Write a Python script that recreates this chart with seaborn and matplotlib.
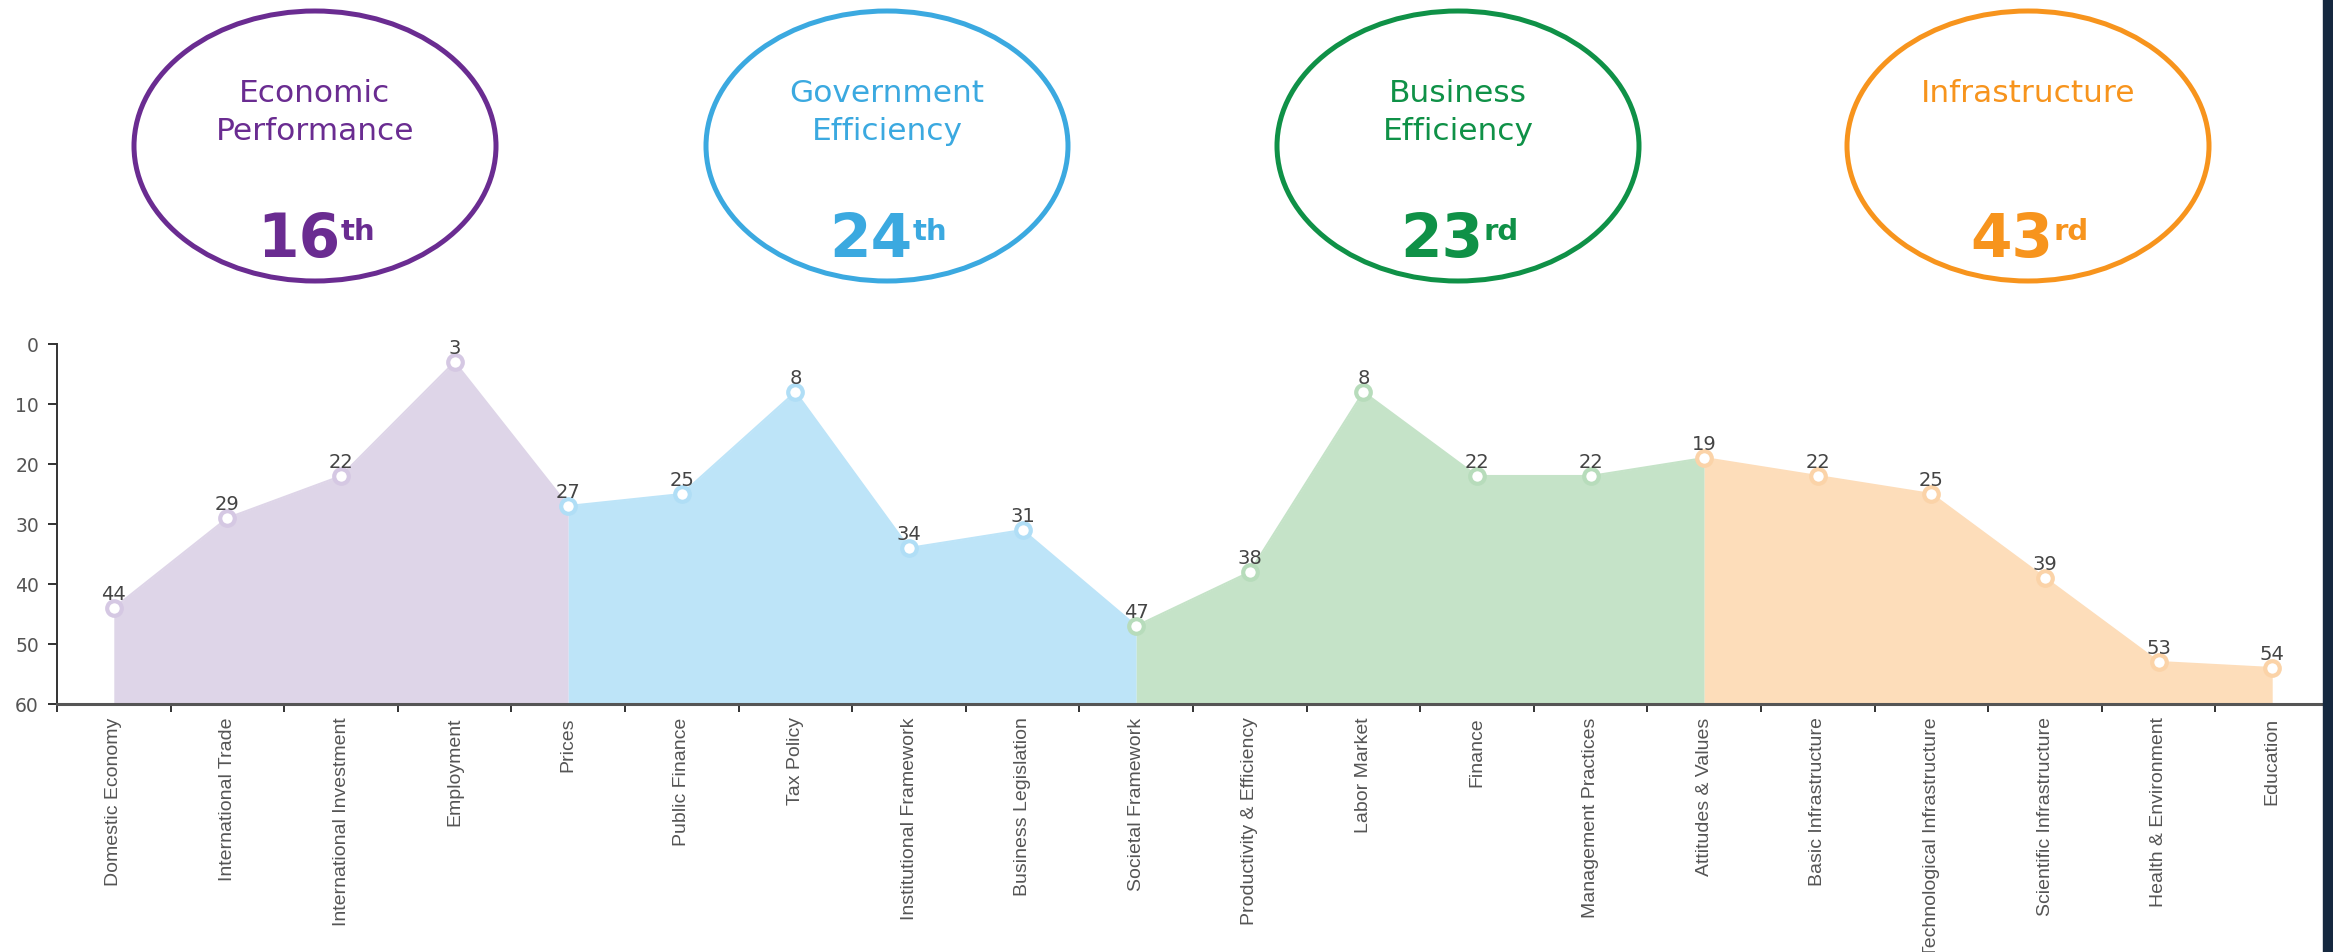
import matplotlib
matplotlib.use("Agg")
import matplotlib.pyplot as plt
from matplotlib.patches import Ellipse, Rectangle
import seaborn as sns
import pandas as pd
import numpy as np

# ---- data -------------------------------------------------------------
factors = ["Economic\nPerformance", "Government\nEfficiency",
           "Business\nEfficiency", "Infrastructure"]
factor_rank = [16, 24, 23, 43]
factor_suffix = ["th", "th", "rd", "rd"]

sub_factors = [
    "Domestic Economy", "International Trade", "International Investment",
    "Employment", "Prices", "Public Finance", "Tax Policy",
    "Institutional Framework", "Business Legislation", "Societal Framework",
    "Productivity & Efficiency", "Labor Market", "Finance",
    "Management Practices", "Attitudes & Values", "Basic Infrastructure",
    "Technological Infrastructure", "Scientific Infrastructure",
    "Health & Environment", "Education",
]
sub_rank = [44, 29, 22, 3, 27, 25, 8, 34, 31, 47,
            38, 8, 22, 22, 19, 22, 25, 39, 53, 54]

# index range (inclusive) of each filled band along the x axis
band_start = [0, 4, 9, 14]
band_end = [4, 9, 14, 19]

# ---- styling ----------------------------------------------------------
strong = ["#6A2C91", "#3BA9E0", "#0F9147", "#F7941D"]
fill = ["#DED5E8", "#BDE4F8", "#C5E3C8", "#FDDDBA"]
ring = ["#D5C8E3", "#B0DEF6", "#B7DCBB", "#FBD3A8"]

sns.set_theme(style="white")
plt.rcParams["font.family"] = ["Liberation Sans", "DejaVu Sans"]
WIDE = ["DejaVu Sans"]

W, H = 2333, 953
fig = plt.figure(figsize=(W / 100, H / 100), dpi=100)
fig.patch.set_facecolor("white")

df = pd.DataFrame({"pos": np.arange(len(sub_factors)),
                   "name": sub_factors, "rank": sub_rank})

ax = fig.add_axes([57 / W, 1 - 705 / H, (2329 - 57) / W, (705 - 345) / H])
ax.set_facecolor("white")

for i in range(4):
    seg = df.iloc[band_start[i]:band_end[i] + 1]
    ax.fill_between(seg["pos"], seg["rank"], 60, color=fill[i], lw=0,
                    zorder=1)
    sns.lineplot(data=seg, x="pos", y="rank", ax=ax, color=fill[i], lw=1.5,
                 zorder=2)

# marker ring colour: each point takes the band drawn last over it
marker_band = [0, 0, 0, 0, 1, 1, 1, 1, 1, 2, 2, 2, 2, 2, 3, 3, 3, 3, 3, 3]
for i in range(4):
    pts = df[[b == i for b in marker_band]]
    sns.scatterplot(data=pts, x="pos", y="rank", ax=ax, color="white",
                    edgecolor=ring[i], linewidth=3.0, s=110, zorder=4,
                    clip_on=False, legend=False)

for x, y in zip(df["pos"], df["rank"]):
    ax.annotate(str(y), (x, y), xytext=(0, 6.5), textcoords="offset points",
                ha="center", va="baseline", fontsize=14, color="#444444",
                family=WIDE, zorder=5, annotation_clip=False)

ax.set_xlim(-0.5, len(sub_factors) - 0.5)
ax.set_ylim(60, 0)
ax.set_yticks(range(0, 61, 10))
ax.set_yticklabels([str(v) for v in range(0, 61, 10)], family=WIDE,
                   fontsize=13.5, color="#555555")
ax.set_xticks(df["pos"])
ax.set_xticklabels(df["name"], rotation=90, fontsize=14, color="#555555")
ax.set_xticks(np.arange(-0.5, len(sub_factors)), minor=True)
ax.tick_params(axis="x", which="major", length=0, pad=9)
ax.tick_params(axis="x", which="minor", length=6, width=1.4,
               direction="out", color="#333333", bottom=True)
ax.tick_params(axis="y", length=6.5, width=1.4, direction="out",
               color="#333333", pad=6.5, left=True)
ax.set_xlabel("")
ax.set_ylabel("")
for s in ["top", "right"]:
    ax.spines[s].set_visible(False)
ax.spines["left"].set_color("#333333")
ax.spines["left"].set_linewidth(1.4)
ax.spines["bottom"].set_color("#555555")
ax.spines["bottom"].set_linewidth(2.2)
ax.grid(False)

# ---- factor badges across the top --------------------------------------
top = fig.add_axes([0, 0, 1, 1], zorder=-1)
top.set_xlim(0, W)
top.set_ylim(H, 0)
top.axis("off")
centers = [315, 887, 1458, 2028]
for i in range(4):
    cx = centers[i]
    top.add_patch(Ellipse((cx, 147), 362, 270, fill=False,
                          edgecolor=strong[i], lw=3.6))
    lines = factors[i].split("\n")
    for j, line in enumerate(lines):
        top.text(cx, 94 + 37 * j, line, ha="center", va="center",
                 fontsize=22.5, color=strong[i], family=WIDE)
    top.text(cx + 25, 257, str(factor_rank[i]), ha="right",
             va="baseline", fontsize=43, fontweight="bold",
             color=strong[i], family=WIDE)
    top.text(cx + 26, 240, factor_suffix[i], ha="left", va="baseline",
             fontsize=21, fontweight="bold", color=strong[i], family=WIDE)

# dark frame edge on the right
fig.add_artist(Rectangle((2323 / W, 0), 10 / W, 1, transform=fig.transFigure,
                         color="#15283F", zorder=10))

fig.savefig("out.png", dpi=100, facecolor="white")
